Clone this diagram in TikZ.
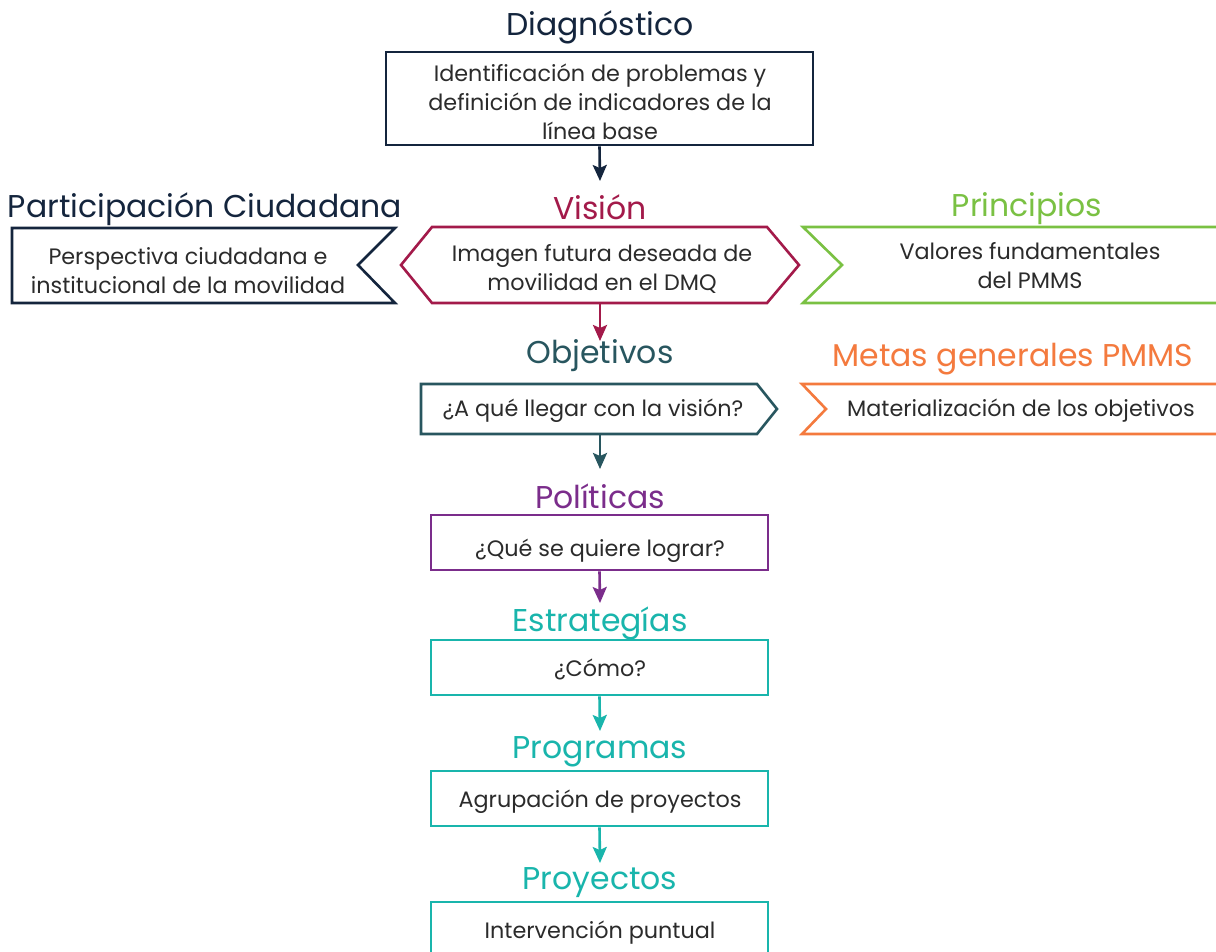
\documentclass[tikz,border=0pt]{standalone}
\usepackage{fontspec}
\setmainfont{Poppins}
\usetikzlibrary{arrows.meta}
\definecolor{cnavy}{HTML}{14253D}
\definecolor{ccrim}{HTML}{A31A4A}
\definecolor{cgreen}{HTML}{7AC143}
\definecolor{cdteal}{HTML}{28565F}
\definecolor{corange}{HTML}{F47A3E}
\definecolor{cpurple}{HTML}{7B2D8B}
\definecolor{cteal}{HTML}{19B5AC}
\definecolor{ctext}{HTML}{2B2B2B}
\tikzset{
  ttl/.style={font=\fontsize{31.5}{34}\selectfont, anchor=center, inner sep=0pt},
  body/.style={font=\fontsize{22.3}{29}\selectfont, text=ctext, align=center, inner sep=0pt},
  boxr/.style={draw, line width=2.6pt, fill=white, minimum width=337pt, minimum height=55pt, inner sep=0pt},
  shp/.style={line width=2.6pt, line join=miter},
  arr/.style={line width=2.6pt, -{Stealth[length=16pt,width=14pt,inset=3pt]}},
}
\begin{document}
\begin{tikzpicture}[x=1pt,y=-1pt]
\useasboundingbox[fill=white] (0,0) rectangle (1216,951);

% Diagnostico
\node[ttl, text=cnavy] (tdiag) at (600,27) {Diagnóstico};
\node[boxr, draw=cnavy, minimum width=427pt, minimum height=93pt] (diag) at (599.5,98.5) {};
\node[body] (diagtxt) at (600,102) {Identificación de problemas y\\definición de indicadores de la\\línea base};
\coordinate (a1) at (600,181);
\draw[arr, cnavy] (diag.south) -- (a1);

% Vision
\node[ttl, text=ccrim] (tvis) at (600,207) {Visión};
\draw[shp, ccrim] (432,227) -- (767,227) -- (799,265) -- (767,303) -- (432,303) -- (401,265) -- cycle;
\node[body] (vistxt) at (602,269) {Imagen futura deseada de\\movilidad en el DMQ};
\coordinate (visb) at (600,303);
\coordinate (a2) at (600,341);
\draw[arr, ccrim] (visb) -- (a2);

% Participacion
\node[ttl, text=cnavy] (tpart) at (205,209) {Participación Ciudadana};
\draw[shp, cnavy] (12,228) -- (395,228) -- (358,265) -- (395,303) -- (12,303) -- cycle;
\node[body] (parttxt) at (188,271) {Perspectiva ciudadana e\\institucional de la movilidad};

% Principios
\node[ttl, text=cgreen] (tprin) at (1027,209) {Principios};
\draw[shp, cgreen] (1220,227) -- (803,227) -- (842,265) -- (803,303) -- (1220,303);
\node[body] (printxt) at (1030,266) {Valores fundamentales\\del PMMS};

% Objetivos
\node[ttl, text=cdteal] (tobj) at (600,356) {Objetivos};
\draw[shp, cdteal] (421,384) -- (757,384) -- (777,409) -- (757,434) -- (421,434) -- cycle;
\node[body] (objtxt) at (593,411) {¿A qué llegar con la visión?};
\coordinate (objb) at (600,434);
\coordinate (a3) at (600,469);
\draw[arr, cdteal] (objb) -- (a3);

% Metas
\node[ttl, text=corange] (tmet) at (1013,359) {Metas generales PMMS};
\draw[shp, corange] (1220,384) -- (802,384) -- (826,409) -- (802,434) -- (1220,434);
\node[body] (mettxt) at (1021,411) {Materialización de los objetivos};

% Politicas
\node[ttl, text=cpurple] (tpol) at (600,496) {Políticas};
\node[boxr, draw=cpurple] (pol) at (599.5,542.5) {};
\node[body] (poltxt) at (600,551) {¿Qué se quiere lograr?};
\coordinate (a4) at (600,603);
\draw[arr, cpurple] (pol.south) -- (a4);

% Estrategias
\node[ttl, text=cteal] (test) at (600,623) {Estrategías};
\node[boxr, draw=cteal] (est) at (599.5,667.5) {};
\node[body] (esttxt) at (600,669) {¿Cómo?};
\coordinate (a5) at (600,731);
\draw[arr, cteal] (est.south) -- (a5);

% Programas
\node[ttl, text=cteal] (tprog) at (600,752) {Programas};
\node[boxr, draw=cteal] (prog) at (599.5,798.5) {};
\node[body] (progtxt) at (600,802) {Agrupación de proyectos};
\coordinate (a6) at (600,863);
\draw[arr, cteal] (prog.south) -- (a6);

% Proyectos
\node[ttl, text=cteal] (tproy) at (600,883) {Proyectos};
\node[boxr, draw=cteal, minimum height=70pt] (proy) at (599.5,937) {};
\node[body] (proytxt) at (600,933) {Intervención puntual};
\end{tikzpicture}
\end{document}
